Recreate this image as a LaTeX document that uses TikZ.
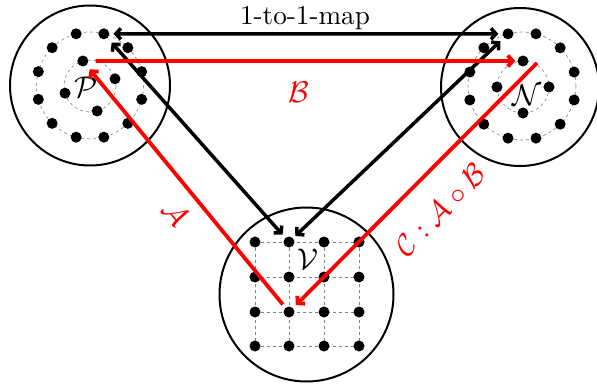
\documentclass[tikz,border=0pt]{standalone}
\usetikzlibrary{arrows.meta,calc}
\begin{document}
\begin{tikzpicture}[x=1pt,y=-1pt,
  dot/.style={circle,fill=black,inner sep=0pt,minimum size=11pt},
  bigc/.style={circle,draw=black,line width=2pt,inner sep=0pt},
  guide/.style={draw=gray,dashed,line width=0.6pt},
  tipb/.tip={Straight Barb[length=5pt,width=11pt]},
  blk/.style={line width=3.5pt,tipb-tipb},
  redarr/.style={draw=red,line width=3.8pt,-tipb},
  lab/.style={inner sep=0pt}]
\useasboundingbox (0,0) rectangle (597,390);
% big circles
\node[bigc,minimum size=160pt] (Pc) at (90,85.5) {};
\node[bigc,minimum size=158pt] (Nc) at (520,87) {};
\node[bigc,minimum size=174pt] (Vc) at (306.5,294.5) {};
% guide circles
\draw[guide] (90,85.5) circle[radius=53.5];
\draw[guide] (90,86) circle[radius=26];
\draw[guide] (522,86) circle[radius=54];
\draw[guide] (523,87) circle[radius=26];
% grid
\foreach \r in {242,277,312,346} \draw[guide] (255,\r) -- (359,\r);
\foreach \c in {255,289,324,359} \draw[guide] (\c,242) -- (\c,346);
% dots P
\foreach \i in {0,...,11}
  \node[dot] (po\i) at ($(90,85.5)+({-(15+30*\i)}:53.5)$) {};
\foreach \j in {0,...,3}
  \node[dot] (pi\j) at ($(90,86)+({-(16+90*\j)}:26)$) {};
% dots N
\foreach \i in {0,...,11}
  \node[dot] (no\i) at ($(522,86)+({-(15+30*\i)}:54)$) {};
\foreach \j in {0,...,3}
  \node[dot] (ni\j) at ($(523,87)+({-(90*\j)}:26)$) {};
% dots V
\foreach \c/\x in {1/255,2/289,3/324,4/359}
  \foreach \r/\y in {1/242,2/277,3/312,4/346}
    \node[dot] (v\c\r) at (\x,\y) {};
% labels
\node[lab,scale=3] (Pl) at (86,87) {$\mathcal{P}$};
\node[lab,scale=3] (Nl) at (527,95) {$\mathcal{N}$};
\node[lab,scale=3] (Vl) at (308,259) {$\mathcal{V}$};
\node[lab,scale=3,text=red] (Bl) at (299,92) {$\mathcal{B}$};
\node[lab,scale=3,text=red,rotate=-50] (Al) at (176,213) {$\mathcal{A}$};
\node[lab,scale=3,text=red,rotate=45.7] (Cl) at (440,210) {$\mathcal{C}:\mathcal{A}\circ\mathcal{B}$};
\node[lab,scale=2.72,anchor=base] (map) at (305,25) {1-to-1-map};
% arrows
\draw[blk,shorten <=4pt,shorten >=4pt] (po2) -- (no3);
\draw[blk,shorten <=6pt,shorten >=4pt] (po2) -- (v21);
\draw[blk,shorten <=5pt,shorten >=3pt] (no3) -- (v21);
\draw[redarr,shorten <=7pt,shorten >=2pt] (pi1) -- (ni1);
\draw[redarr,shorten <=4pt,shorten >=5pt] (v23) -- (pi1);
\coordinate (cs) at (537,63);
\draw[redarr,shorten >=4pt] (cs) -- (v23);
\end{tikzpicture}
\end{document}
